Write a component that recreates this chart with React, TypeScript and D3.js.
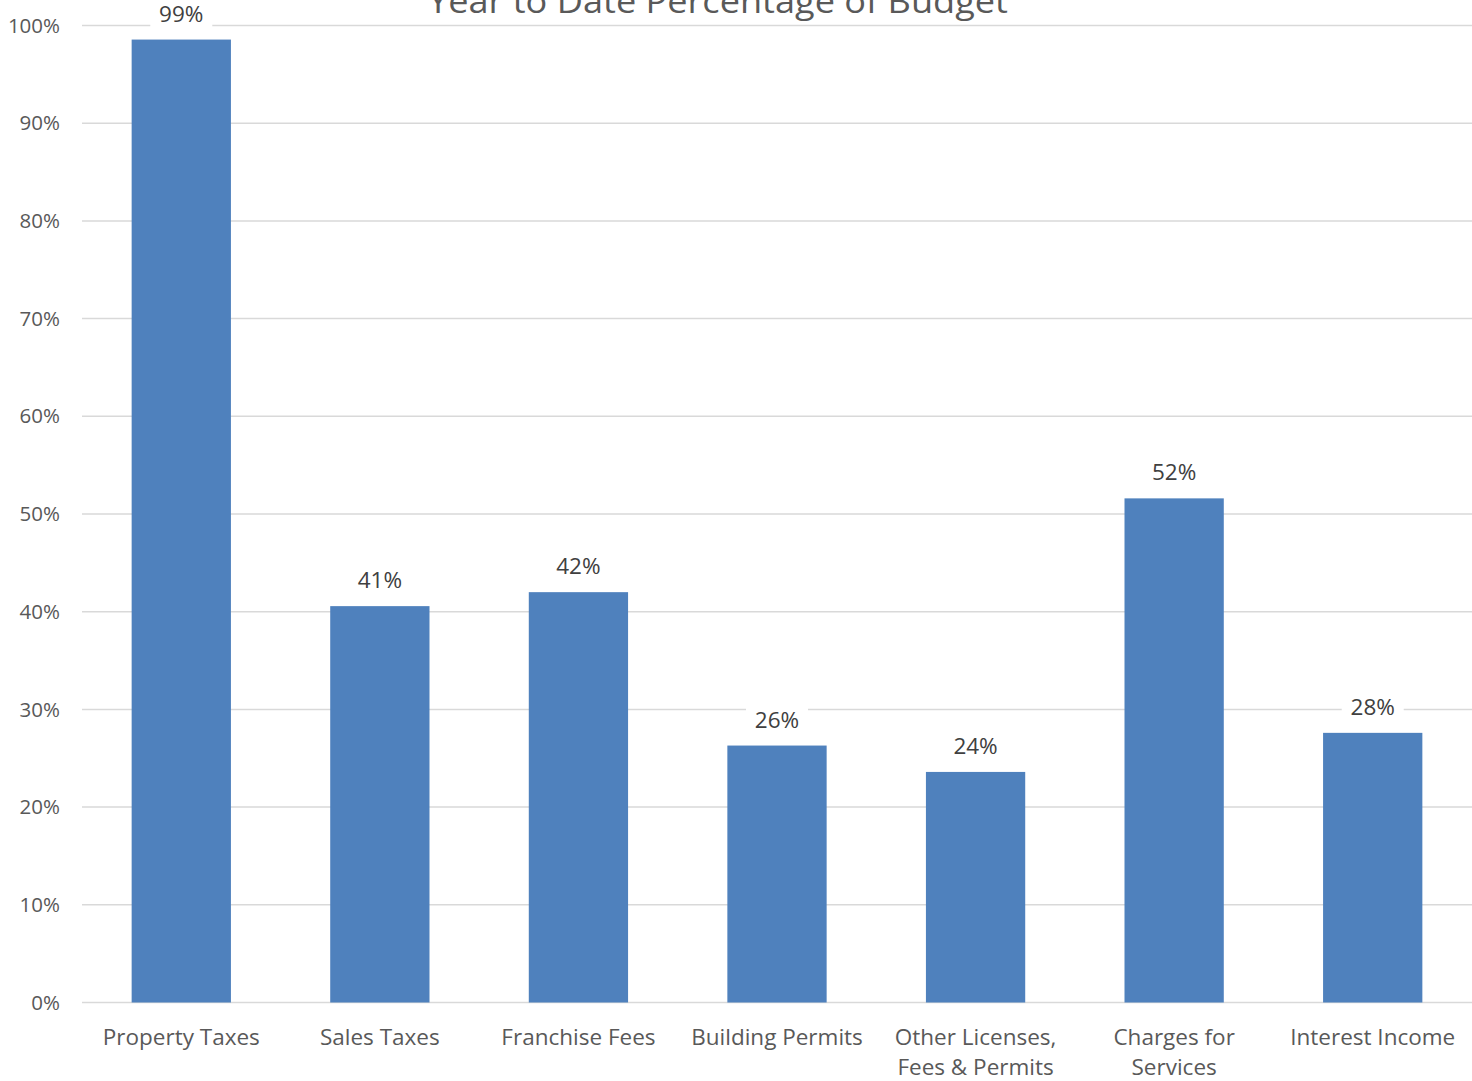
import React from "react";
import * as d3 from "d3";

const categories: string[][] = [
  ["Property Taxes"],
  ["Sales Taxes"],
  ["Franchise Fees"],
  ["Building Permits"],
  ["Other Licenses,", "Fees & Permits"],
  ["Charges for", "Services"],
  ["Interest Income"],
];
const values: number[] = [0.9856, 0.4057, 0.42, 0.263, 0.236, 0.516, 0.276];
const labels: string[] = ["99%", "41%", "42%", "26%", "24%", "52%", "28%"];
const yTicks: number[] = [0, 0.1, 0.2, 0.3, 0.4, 0.5, 0.6, 0.7, 0.8, 0.9, 1.0];
const title = "Year to Date Percentage of Budget";

const W = 1472;
const H = 1081;
const FONT = "'Open Sans', 'Noto Sans', sans-serif";

export default function App() {
  const x = d3
    .scaleBand<number>()
    .domain(d3.range(categories.length))
    .range([82, 1472])
    .paddingInner(0.5)
    .paddingOuter(0.25);
  const y = d3.scaleLinear().domain([0, 1]).range([1002.5, 25.5]);
  const fmt = d3.format(".0%");
  const textColor = "#595959";

  return (
    <svg
      width={W}
      height={H}
      style={{ position: "absolute", left: 0, top: 0, background: "#fff" }}
      fontFamily={FONT}
    >
      <rect x={0} y={0} width={W} height={H} fill="#fff" />
      {yTicks.map((t) => (
        <g key={t}>
          <line x1={82} x2={1472} y1={y(t)} y2={y(t)} stroke="#d9d9d9" strokeWidth={1.5} />
          <text x={60} y={y(t)} dy="0.35em" textAnchor="end" fontSize={20.5} fill={textColor}>
            {fmt(t)}
          </text>
        </g>
      ))}
      {values.map((v, i) => (
        <rect
          key={i}
          x={x(i)}
          y={y(v)}
          width={x.bandwidth()}
          height={y(0) - y(v)}
          fill="#4f81bd"
        />
      ))}
      {values.map((v, i) => {
        const cx = (x(i) as number) + x.bandwidth() / 2;
        return (
          <g key={i}>
            <rect x={cx - 31} y={y(v) - 40} width={62} height={30} fill="#fff" />
            <text x={cx} y={y(v) - 18} textAnchor="middle" fontSize={22.5} fill="#404040">
              {labels[i]}
            </text>
          </g>
        );
      })}
      {categories.map((lines, i) => {
        const cx = (x(i) as number) + x.bandwidth() / 2;
        return (
          <text key={i} textAnchor="middle" fontSize={22.5} fill={textColor}>
            {lines.map((l, j) => (
              <tspan key={j} x={cx} y={1045 + j * 30}>
                {l}
              </tspan>
            ))}
          </text>
        );
      })}
      <text
        x={718}
        y={13}
        textAnchor="middle"
        fontSize={33}
        textLength={580}
        lengthAdjust="spacingAndGlyphs"
        fill={textColor}
      >
        {title}
      </text>
    </svg>
  );
}
